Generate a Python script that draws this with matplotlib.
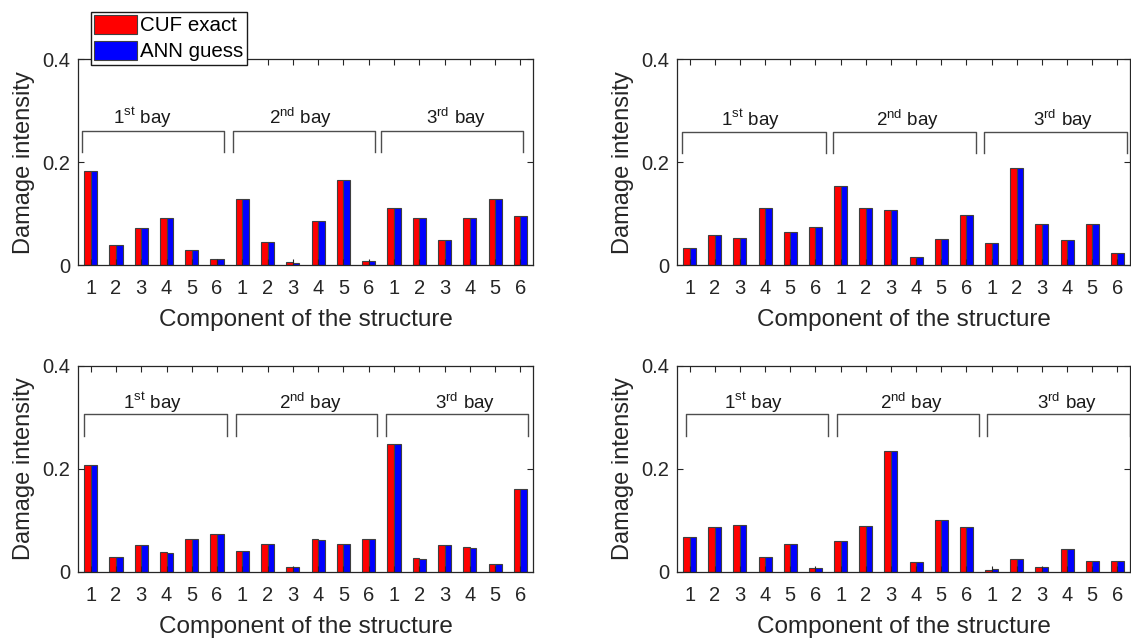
import numpy as np
import matplotlib
matplotlib.use("Agg")
import matplotlib.pyplot as plt

plt.rcParams['font.family'] = ['Liberation Sans', 'DejaVu Sans']
plt.rcParams['mathtext.fontset'] = 'custom'
plt.rcParams['mathtext.rm'] = 'Liberation Sans'

# components 1..6 in each of the three bays
components = np.arange(1, 19)
tick_labels = ['1', '2', '3', '4', '5', '6'] * 3
bay_labels = [r'1$^{\mathrm{st}}$ bay', r'2$^{\mathrm{nd}}$ bay', r'3$^{\mathrm{rd}}$ bay']

# damage scenario 1
cuf_1 = [0.183, 0.039, 0.072, 0.092, 0.029, 0.012,
         0.129, 0.045, 0.006, 0.086, 0.165, 0.008,
         0.111, 0.091, 0.048, 0.092, 0.128, 0.096]
ann_1 = [0.183, 0.039, 0.072, 0.092, 0.029, 0.012,
         0.129, 0.045, 0.005, 0.086, 0.165, 0.008,
         0.111, 0.091, 0.048, 0.092, 0.128, 0.096]

# damage scenario 2
cuf_2 = [0.034, 0.059, 0.053, 0.111, 0.065, 0.075,
         0.153, 0.111, 0.107, 0.016, 0.051, 0.098,
         0.043, 0.189, 0.080, 0.049, 0.080, 0.023]
ann_2 = [0.034, 0.059, 0.053, 0.111, 0.065, 0.075,
         0.153, 0.111, 0.107, 0.016, 0.051, 0.098,
         0.043, 0.189, 0.080, 0.048, 0.080, 0.023]

# damage scenario 3
cuf_3 = [0.208, 0.029, 0.053, 0.038, 0.063, 0.074,
         0.041, 0.055, 0.010, 0.063, 0.055, 0.063,
         0.249, 0.027, 0.052, 0.048, 0.015, 0.161]
ann_3 = [0.208, 0.029, 0.053, 0.037, 0.063, 0.073,
         0.041, 0.055, 0.010, 0.062, 0.055, 0.063,
         0.249, 0.026, 0.052, 0.047, 0.015, 0.161]

# damage scenario 4
cuf_4 = [0.067, 0.087, 0.092, 0.028, 0.055, 0.008,
         0.060, 0.090, 0.234, 0.019, 0.101, 0.088,
         0.004, 0.026, 0.009, 0.044, 0.022, 0.022]
ann_4 = [0.067, 0.087, 0.092, 0.029, 0.055, 0.008,
         0.060, 0.090, 0.234, 0.020, 0.101, 0.088,
         0.005, 0.026, 0.010, 0.044, 0.022, 0.022]

scenarios = [(cuf_1, ann_1), (cuf_2, ann_2), (cuf_3, ann_3), (cuf_4, ann_4)]

# axes rectangles [left, bottom, width, height] in figure fraction
rects = [[0.069, 0.585, 0.4023, 0.3224], [0.5986, 0.585, 0.4005, 0.3224],
         [0.069, 0.105, 0.4023, 0.3224], [0.5986, 0.105, 0.4005, 0.3224]]

# bracket spans (x), bracket heights (top, foot) and bay text placement per panel
bracket_x = [
    [(0.66, 6.27), (6.63, 12.24), (12.48, 18.10)],
    [(0.70, 6.42), (6.70, 12.38), (12.70, 18.38)],
    [(0.74, 6.39), (6.75, 12.33), (12.68, 18.30)],
    [(0.86, 6.50), (6.86, 12.50), (12.82, 18.50)],
]
bracket_y = [(0.260, 0.219), (0.259, 0.218), (0.307, 0.264), (0.306, 0.263)]
text_x = [(3.03, 9.32, 15.45), (3.40, 9.68, 15.83), (3.43, 9.68, 15.80), (3.52, 9.84, 15.99)]
text_y = [0.286, 0.282, 0.328, 0.329]

dark = '0.15'
w = 0.26

fig = plt.figure(figsize=(11.31, 6.39), dpi=100)
handles = None
for k, (cuf, ann) in enumerate(scenarios):
    ax = fig.add_axes(rects[k])
    b1 = ax.bar(components - w / 2, cuf, w, color='#ff0000', edgecolor='0.25', linewidth=0.8)
    b2 = ax.bar(components + w / 2, ann, w, color='#0000ff', edgecolor='0.25', linewidth=0.8)
    handles = (b1, b2)
    ax.set_xlim(0.5, 18.5)
    ax.set_ylim(0, 0.4)
    ax.set_xticks(components)
    ax.set_xticklabels(tick_labels)
    ax.set_yticks([0, 0.2, 0.4])
    ax.set_yticklabels(['0', '0.2', '0.4'])
    ax.tick_params(direction='in', top=True, right=True, length=4, width=0.8,
                   colors=dark, labelsize=14.5, labelcolor='0.15')
    ax.tick_params(axis='x', pad=10)
    ax.tick_params(axis='y', pad=5.5)
    for s in ax.spines.values():
        s.set_color(dark)
        s.set_linewidth(0.9)
    ax.set_ylabel('Damage intensity', fontsize=17, color='0.15', labelpad=5)
    ax.set_xlabel('Component of the structure', fontsize=17.5, color='0.15', labelpad=8)

    ytop, yfoot = bracket_y[k]
    for j, (x0, x1) in enumerate(bracket_x[k]):
        ax.plot([x0, x0, x1, x1], [yfoot, ytop, ytop, yfoot], color='0.3', lw=1.0,
                clip_on=False)
        ax.text(text_x[k][j], text_y[k], bay_labels[j], ha='center', va='center',
                fontsize=13.5, color='0.1')

fig.legend(handles, ['CUF exact', 'ANN guess'], loc='upper left',
           bbox_to_anchor=(0.0805, 0.981), fontsize=14.8, frameon=True, fancybox=False,
           edgecolor='0.1', framealpha=1, borderpad=0.15, handlelength=2.1,
           handleheight=1.0, handletextpad=0.15, labelspacing=0.28, borderaxespad=0)

fig.savefig('out.png', dpi=100)
